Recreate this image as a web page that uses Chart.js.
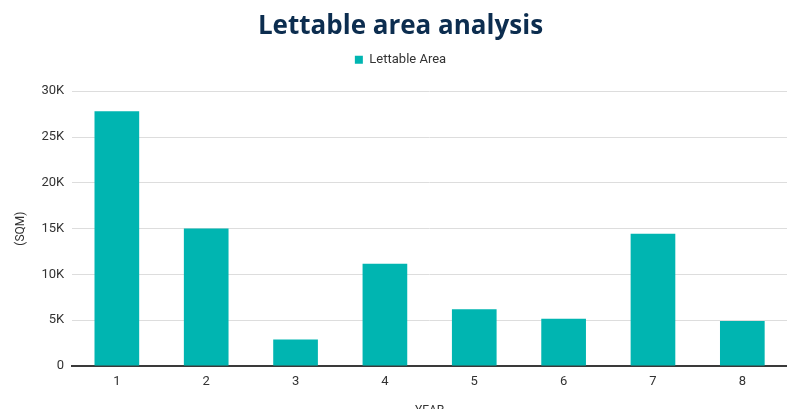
<!DOCTYPE html>
<html>
<head>
<meta charset="utf-8">
<script src="https://cdn.jsdelivr.net/npm/chart.js@4/dist/chart.umd.min.js"></script>
<style>
  html, body { margin: 0; padding: 0; background: #fff; overflow: hidden; }
  #wrap { position: relative; width: 787px; height: 418px; }
</style>
</head>
<body>
<div id="wrap"><canvas id="c"></canvas></div>
<script>
const years = ['1', '2', '3', '4', '5', '6', '7', '8'];
const lettableArea = [27800, 15000, 2900, 11150, 6200, 5150, 14450, 4900];
const seriesLabel = 'Lettable Area';
const chartTitle = 'Lettable area analysis';

const teal = '#00b5b1';
const ink = '#333333';

// Adds some breathing room between the legend and the plot area
const legendGap = {
  id: 'legendGap',
  beforeInit(chart) {
    const fit = chart.legend.fit;
    chart.legend.fit = function () {
      fit.bind(chart.legend)();
      this.height += 15;
    };
  }
};

new Chart(document.getElementById('c'), {
  type: 'bar',
  plugins: [legendGap],
  data: {
    labels: years,
    datasets: [{
      label: seriesLabel,
      data: lettableArea,
      backgroundColor: teal,
      borderWidth: 0,
      categoryPercentage: 0.5,
      barPercentage: 1.0
    }]
  },
  options: {
    responsive: true,
    maintainAspectRatio: false,
    animation: false,
    layout: { padding: { left: 14, right: 0, top: 11, bottom: 0 } },
    plugins: {
      title: {
        display: true,
        text: chartTitle,
        color: '#0c2d4f',
        font: { family: 'Open Sans', size: 26, weight: 'bold' },
        padding: { top: 0, bottom: 1 }
      },
      legend: {
        display: true,
        labels: {
          boxWidth: 8,
          boxHeight: 8,
          padding: 10,
          color: ink,
          font: { family: 'Roboto', size: 13 }
        }
      },
      tooltip: { enabled: false }
    },
    scales: {
      x: {
        grid: { display: false, drawTicks: false },
        border: { display: true, color: '#3a3a3a', width: 2 },
        ticks: { color: ink, font: { family: 'Roboto', size: 13 }, padding: 8 },
        title: {
          display: true,
          text: 'YEAR',
          color: ink,
          font: { family: 'Roboto', size: 12 },
          padding: { top: 6, bottom: 0 }
        }
      },
      y: {
        min: 0,
        max: 30000,
        grid: { color: '#dddddd', drawTicks: false, lineWidth: 1 },
        border: { display: false },
        ticks: {
          stepSize: 5000,
          color: ink,
          font: { family: 'Roboto', size: 13 },
          padding: 8,
          callback: v => v === 0 ? '0' : (v / 1000) + 'K'
        },
        title: {
          display: true,
          text: '(SQM)',
          color: ink,
          font: { family: 'Roboto', size: 12 },
          padding: { top: 0, bottom: 5 }
        }
      }
    }
  }
});
</script>
</body>
</html>
